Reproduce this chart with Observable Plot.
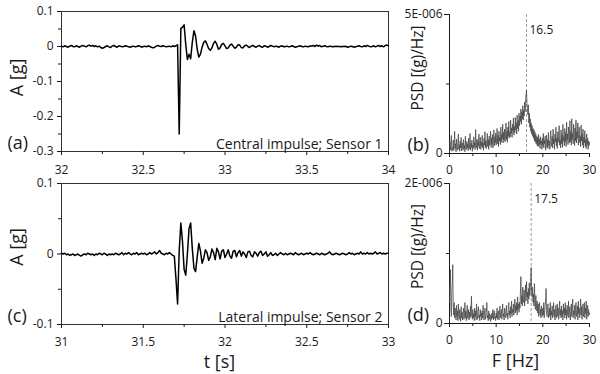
<!DOCTYPE html>
<html><head><meta charset="utf-8">
<script src="https://cdn.jsdelivr.net/npm/d3@7"></script>
<script src="https://cdn.jsdelivr.net/npm/@observablehq/plot@0.6"></script>
<style>
body{margin:0;background:#fff;}
#chart{position:relative;width:600px;height:374px;overflow:hidden;font-family:"Open Sans",sans-serif;}
#chart svg{position:absolute;}
</style></head><body><div id="chart"></div>
<script>
// ---- Data ----
// (a) Central impulse, Sensor 1: acceleration [g], sampled from 32.00 s every 0.01 s
const sigAStart = 32.00, sigAStep = 0.01;
const sigA = [
 0.001,-0.001,0.002,0.000,-0.002,0.001,0.003,0.000,-0.001,0.002,
 0.000,-0.002,0.001,0.003,0.001,-0.001,0.002,0.004,0.001,0.003,
 0.000,0.002,-0.001,0.001,-0.003,-0.005,-0.003,0.000,0.002,-0.001,
 -0.003,0.001,0.003,0.000,-0.002,0.002,0.001,-0.001,0.000,0.002,
 0.001,-0.001,-0.002,0.000,0.001,-0.001,0.000,0.002,0.001,-0.002,
 0.000,0.001,-0.001,0.002,0.000,-0.002,-0.004,-0.002,0.001,0.003,
 0.001,0.000,0.002,0.001,-0.001,0.000,0.001,-0.001,0.002,0.000,
 0.002,0.005,-0.250,0.052,0.055,0.062,0.005,-0.037,-0.022,-0.035,
 0.012,0.045,0.030,-0.008,-0.030,-0.022,-0.002,0.012,0.016,0.006,
 -0.006,-0.011,-0.004,0.009,0.015,0.006,-0.008,-0.004,0.006,0.009,
 0.002,-0.006,-0.004,0.004,0.007,0.001,-0.005,-0.002,0.005,0.004,
 -0.003,-0.004,0.002,0.004,0.000,-0.003,0.001,0.003,0.000,-0.002,
 0.001,0.003,-0.001,-0.002,0.002,0.001,-0.002,0.000,0.003,0.001,
 -0.001,0.001,0.000,-0.002,0.001,0.002,-0.001,0.000,0.001,-0.001,
 0.000,0.002,0.000,-0.002,-0.001,0.001,0.002,0.000,-0.001,0.001,
 0.000,-0.001,0.002,0.001,0.003,0.000,0.004,0.001,0.003,-0.001,
 0.001,0.002,0.000,-0.001,0.001,0.000,-0.001,0.000,0.001,0.000,
 0.000,-0.001,0.000,0.001,0.000,-0.002,-0.001,0.001,0.000,-0.002,
 -0.001,0.001,0.002,0.000,-0.001,0.002,0.000,0.003,0.001,-0.001,
 0.000,0.002,-0.001,0.001,0.003,0.000,0.002,-0.001,0.003,0.004,
 0.002
];
// (c) Lateral impulse, Sensor 2: acceleration [g], sampled from 31.00 s every 0.01 s
const sigCStart = 31.00, sigCStep = 0.01;
const sigC = [
 0.001,0.000,0.001,-0.001,0.000,-0.002,-0.001,0.000,-0.002,-0.001,
 0.000,-0.002,-0.003,-0.001,0.000,-0.001,0.001,0.000,-0.001,0.000,
 -0.002,0.000,-0.001,0.001,0.000,-0.001,0.001,0.000,-0.002,0.000,
 -0.001,0.000,-0.001,0.001,0.000,-0.001,0.000,0.002,-0.001,0.001,
 0.000,0.002,0.000,-0.001,0.001,0.000,0.002,-0.001,0.000,0.001,
 0.000,0.001,-0.001,0.000,0.002,0.000,0.001,0.003,0.000,0.002,
 0.005,0.001,0.000,-0.001,0.001,0.000,0.002,0.000,-0.002,-0.003,
 -0.035,-0.071,0.005,0.044,0.018,-0.022,-0.030,0.000,0.036,0.044,
 0.008,-0.020,-0.025,-0.004,0.015,0.004,-0.013,-0.006,0.006,0.002,
 -0.009,-0.004,0.007,0.002,-0.008,0.008,0.003,-0.007,0.004,0.006,
 -0.005,0.000,0.006,-0.003,-0.006,0.004,0.005,-0.004,0.002,0.005,
 -0.003,0.003,0.000,-0.005,0.003,0.004,-0.002,-0.004,0.003,0.001,
 -0.003,0.002,0.004,-0.002,0.000,0.003,-0.003,-0.001,0.002,-0.002,
 -0.001,0.001,-0.002,0.000,0.002,0.000,-0.001,0.001,-0.001,0.000,
 0.001,0.000,-0.001,0.002,0.000,-0.001,0.000,0.001,-0.001,0.000,
 0.001,0.000,0.002,0.000,-0.001,0.000,0.001,0.000,-0.001,0.001,
 0.000,-0.001,0.000,0.001,0.003,0.000,-0.001,0.000,0.001,0.000,
 -0.001,0.000,0.001,0.000,-0.001,0.000,0.002,0.000,0.001,-0.001,
 0.000,0.001,0.000,0.003,0.000,0.001,0.000,0.002,0.000,0.001,
 0.000,0.001,0.003,0.000,0.001,0.002,0.000,0.001,0.000,0.001,
 0.001
];
// (b) PSD, Sensor 1 [x 1E-006 (g)/Hz], from 0 Hz every 0.1 Hz
const psdBStep = 0.1;
const psdB = [
 0.05,0.42,0.12,0.30,0.65,0.08,0.22,0.15,0.48,0.10,
 0.28,0.80,0.18,0.35,0.06,0.52,0.25,0.12,0.40,0.70,
 0.15,0.32,0.08,0.45,0.20,0.58,0.10,0.26,0.38,0.12,
 0.50,0.18,0.30,0.06,0.62,0.24,0.14,0.44,0.20,0.35,
 0.10,0.55,0.28,0.16,0.72,0.12,0.36,0.22,0.48,0.08,
 0.30,0.18,0.60,0.25,0.40,0.14,0.86,0.30,0.20,0.52,
 0.12,0.45,0.28,0.70,0.18,0.34,0.58,0.15,0.42,0.26,
 0.65,0.20,0.38,0.12,0.55,0.30,0.78,0.22,0.46,0.18,
 0.35,0.72,0.25,0.50,0.15,0.62,0.30,0.44,0.80,0.22,
 0.55,0.32,0.68,0.20,0.48,0.85,0.28,0.60,0.38,0.74,
 0.30,0.56,0.90,0.35,0.66,0.25,0.80,0.45,0.58,0.32,
 0.95,0.40,0.70,0.52,1.05,0.38,0.76,0.48,0.88,0.42,
 0.68,1.10,0.50,0.82,0.40,0.95,0.62,1.15,0.55,0.78,
 0.60,1.20,0.72,0.92,0.58,1.05,0.80,1.28,0.66,0.98,
 0.75,1.30,0.85,1.10,0.70,1.38,0.90,1.18,0.80,1.45,
 1.00,1.35,1.15,1.60,1.05,1.50,1.25,1.72,1.20,1.55,
 1.35,1.85,1.50,1.95,2.10,2.27,1.80,1.60,1.40,1.75,
 1.10,1.45,0.95,1.25,0.80,1.10,0.70,1.00,0.62,0.90,
 0.55,0.85,0.45,0.78,0.40,0.70,0.35,0.62,0.28,0.58,
 0.25,0.68,0.30,0.52,0.18,0.60,0.35,0.45,0.15,0.55,
 0.28,0.72,0.20,0.48,0.35,0.62,0.12,0.40,0.66,0.22,
 0.50,0.18,0.75,0.30,0.45,0.15,0.58,0.82,0.25,0.40,
 0.62,0.20,0.88,0.35,0.52,0.15,0.70,0.42,0.95,0.28,
 0.55,0.18,0.78,0.40,0.62,1.00,0.30,0.50,0.20,0.85,
 0.35,0.68,0.22,1.05,0.45,0.60,0.28,0.90,0.40,0.75,
 0.25,1.12,0.48,0.70,0.32,0.95,0.55,0.38,1.18,0.42,
 0.80,0.30,1.25,0.50,0.72,0.35,1.05,0.60,0.28,0.92,
 0.45,1.20,0.38,0.78,0.55,1.10,0.30,0.68,0.95,0.40,
 0.62,0.25,1.02,0.45,0.70,0.30,0.88,0.20,0.58,0.38,
 0.82,0.25,0.50,0.18,0.70,0.32,0.55,0.15,0.45,0.28,
 0.40
];
// (d) PSD, Sensor 2 [x 1E-006 (g)/Hz], from 0 Hz every 0.1 Hz
const psdDStep = 0.1;
const psdD = [
 0.30,0.55,0.77,0.20,0.10,0.45,0.60,0.84,0.25,0.12,
 0.30,0.08,0.22,0.15,0.05,0.26,0.10,0.18,0.04,0.28,
 0.12,0.06,0.20,0.10,0.03,0.24,0.08,0.16,0.05,0.14,
 0.22,0.06,0.12,0.30,0.08,0.18,0.04,0.15,0.26,0.07,
 0.12,0.20,0.05,0.16,0.08,0.25,0.10,0.39,0.12,0.06,
 0.20,0.08,0.14,0.04,0.22,0.10,0.18,0.05,0.28,0.12,
 0.06,0.16,0.24,0.08,0.12,0.04,0.20,0.10,0.15,0.05,
 0.18,0.08,0.26,0.12,0.05,0.14,0.22,0.06,0.10,0.16,
 0.30,0.08,0.12,0.04,0.18,0.06,0.14,0.10,0.03,0.12,
 0.06,0.15,0.08,0.20,0.05,0.12,0.18,0.07,0.10,0.04,
 0.15,0.08,0.22,0.06,0.12,0.18,0.05,0.14,0.25,0.08,
 0.12,0.20,0.06,0.16,0.28,0.10,0.14,0.05,0.22,0.12,
 0.08,0.18,0.26,0.10,0.15,0.06,0.22,0.30,0.12,0.18,
 0.08,0.24,0.14,0.32,0.10,0.20,0.16,0.28,0.12,0.22,
 0.35,0.15,0.26,0.18,0.30,0.12,0.38,0.20,0.28,0.16,
 0.30,0.22,0.45,0.67,0.28,0.40,0.25,0.52,0.35,0.30,
 0.48,0.25,0.42,0.55,0.32,0.60,0.38,0.45,0.28,0.50,
 0.35,0.58,0.40,0.48,0.62,0.80,0.45,0.38,0.52,0.30,
 0.42,0.25,0.57,0.35,0.20,0.40,0.28,0.18,0.32,0.15,
 0.28,0.10,0.22,0.30,0.12,0.20,0.08,0.25,0.15,0.10,
 0.22,0.12,0.30,0.08,0.18,0.25,0.35,0.50,0.15,0.10,
 0.20,0.28,0.08,0.15,0.22,0.10,0.30,0.05,0.18,0.12,
 0.25,0.08,0.16,0.30,0.10,0.20,0.05,0.14,0.26,0.08,
 0.18,0.28,0.10,0.22,0.06,0.15,0.32,0.12,0.20,0.08,
 0.25,0.10,0.18,0.05,0.28,0.14,0.22,0.08,0.30,0.12,
 0.20,0.06,0.26,0.15,0.10,0.32,0.08,0.18,0.24,0.05,
 0.15,0.28,0.10,0.22,0.35,0.08,0.18,0.12,0.26,0.06,
 0.20,0.30,0.10,0.16,0.25,0.05,0.32,0.14,0.22,0.08,
 0.18,0.35,0.12,0.24,0.06,0.20,0.28,0.10,0.16,0.30,
 0.08,0.22,0.14,0.32,0.06,0.18,0.26,0.10,0.20,0.12,
 0.15
];
const peakB = 16.5, peakD = 17.5;

// ticks and labels
const aXTicks = [32, 32.5, 33, 33.5, 34], aXMinor = [32.25, 32.75, 33.25, 33.75];
const aYTicks = [-0.3, -0.2, -0.1, 0, 0.1], aYMinor = [-0.25, -0.15, -0.05, 0.05];
const cXTicks = [31, 31.5, 32, 32.5, 33], cXMinor = [31.25, 31.75, 32.25, 32.75];
const cYTicks = [-0.1, 0, 0.1], cYMinor = [-0.05, 0.05];
const fXTicks = [0, 10, 20, 30], fXMinor = [5, 15, 25];
const bYTicks = [0, 5], bYLabels = ["0", "5E-006"], bYMinor = [2.5];
const dYTicks = [0, 2], dYLabels = ["0", "2E-006"], dYMinor = [1];

const texts = {
  a: "(a)", b: "(b)", c: "(c)", d: "(d)",
  yA: "A [g]", yPSD: "PSD [(g)/Hz]", xT: "t [s]", xF: "F [Hz]",
  noteA: "Central impulse; Sensor 1", noteC: "Lateral impulse; Sensor 2"
};

const INK = "#1a1a1a";
const FONT = "'Open Sans', sans-serif";
const series = (vals, start, step) => vals.map((v, i) => ({x: start + i * step, v}));

function place(svg, left, top) {
  svg.style.left = left + "px";
  svg.style.top = top + "px";
  document.getElementById("chart").appendChild(svg);
}

function timePanel({data, xDomain, yDomain, xTicks, xMinor, yTicks, yMinor, height, mt, mb, padX, letter, note, yLabelDy, xLabel}) {
  const marks = [
    Plot.frame({stroke: "#333", strokeWidth: 1}),
    Plot.axisX({ticks: xTicks, tickSize: 4, tickPadding: padX, tickFormat: d => String(d), label: null, stroke: INK}),
    Plot.axisX({ticks: xMinor, tickSize: 3, tickFormat: () => "", label: null, stroke: INK}),
    Plot.axisY({ticks: yTicks, tickSize: 4, tickPadding: 4, tickFormat: d => String(d), label: null, stroke: INK}),
    Plot.axisY({ticks: yMinor, tickSize: 3, tickFormat: () => "", label: null, stroke: INK}),
    Plot.line(data, {x: "x", y: "v", stroke: "#000", strokeWidth: 1.5, strokeLinejoin: "round"}),
    Plot.text([texts.yA], {text: d => d, frameAnchor: "left", textAnchor: "middle", dx: -44.5, dy: yLabelDy, rotate: -90, fontSize: 18, fill: INK}),
    Plot.text([letter], {text: d => d, frameAnchor: "bottom-left", dx: -54, dy: -3, textAnchor: "start", lineAnchor: "bottom", fontSize: 18, fill: INK}),
    Plot.text([note], {text: d => d, frameAnchor: "bottom-right", dx: -6, dy: -3, textAnchor: "end", lineAnchor: "bottom", fontSize: 14, fill: INK})
  ];
  if (xLabel) marks.push(Plot.text([xLabel], {text: d => d, frameAnchor: "bottom", dx: -5.5, dy: 38, lineAnchor: "middle", fontSize: 18, fill: INK}));
  return Plot.plot({
    width: 395, height, marginLeft: 61, marginRight: 7, marginTop: mt, marginBottom: mb,
    x: {domain: xDomain}, y: {domain: yDomain},
    style: {fontFamily: FONT, fontSize: "12px", color: INK, background: "transparent", overflow: "visible"},
    marks
  });
}

function psdPanel({data, yDomain, yTicks, yLabels, yMinor, peak, height, mt, mb, letter, yLabelDy, xLabel}) {
  const marks = [
    Plot.ruleX([0], {stroke: INK}),
    Plot.ruleY([0], {stroke: INK}),
    Plot.axisX({ticks: fXTicks, tickSize: 4, tickPadding: 8, tickFormat: d => String(d), label: null, stroke: INK}),
    Plot.axisX({ticks: fXMinor, tickSize: 3, tickFormat: () => "", label: null, stroke: INK}),
    Plot.axisY({ticks: yTicks, tickSize: 5, tickPadding: 2, tickFormat: d => yLabels[yTicks.indexOf(d)], label: null, stroke: INK}),
    Plot.axisY({ticks: yMinor, tickSize: 3, tickFormat: () => "", label: null, stroke: INK}),
    Plot.ruleX([peak], {stroke: "#9a9a9a", strokeWidth: 1, strokeDasharray: "3,2"}),
    Plot.line(data, {x: "x", y: "v", stroke: "#444", strokeWidth: 0.75}),
    Plot.text([peak], {x: d => d, text: d => String(d), frameAnchor: "top", dx: 3, dy: 11, textAnchor: "start", fontSize: 12, fill: INK}),
    Plot.text([texts.yPSD], {text: d => d, frameAnchor: "left", textAnchor: "middle", dx: -31, dy: yLabelDy, rotate: -90, fontSize: 15.5, fill: INK}),
    Plot.text([letter], {text: d => d, frameAnchor: "bottom-left", dx: -42, dy: -3, textAnchor: "start", lineAnchor: "bottom", fontSize: 18, fill: INK})
  ];
  if (xLabel) marks.push(Plot.text([xLabel], {text: d => d, frameAnchor: "bottom", dx: -4, dy: 38, lineAnchor: "middle", fontSize: 18, fill: INK}));
  return Plot.plot({
    width: 205, height, marginLeft: 54, marginRight: 11, marginTop: mt, marginBottom: mb,
    x: {domain: [0, 30]}, y: {domain: yDomain},
    style: {fontFamily: FONT, fontSize: "12px", color: INK, background: "transparent", overflow: "visible"},
    marks
  });
}

place(timePanel({
  data: series(sigA, sigAStart, sigAStep), xDomain: [32, 34], yDomain: [-0.3, 0.1],
  xTicks: aXTicks, xMinor: aXMinor, yTicks: aYTicks, yMinor: aYMinor,
  height: 180, mt: 11, mb: 29, padX: 10, letter: texts.a, note: texts.noteA, yLabelDy: -4
}), 0, 0);

place(psdPanel({
  data: series(psdB, 0, psdBStep), yDomain: [0, 5], yTicks: bYTicks, yLabels: bYLabels, yMinor: bYMinor,
  peak: peakB, height: 180, mt: 14, mb: 27, letter: texts.b, yLabelDy: -16
}), 395, 0);

place(timePanel({
  data: series(sigC, sigCStart, sigCStep), xDomain: [31, 33], yDomain: [-0.1, 0.1],
  xTicks: cXTicks, xMinor: cXMinor, yTicks: cYTicks, yMinor: cYMinor,
  height: 194, mt: 3, mb: 50, padX: 9, letter: texts.c, note: texts.noteC, yLabelDy: -7, xLabel: texts.xT
}), 0, 180);

place(psdPanel({
  data: series(psdD, 0, psdDStep), yDomain: [0, 2], yTicks: dYTicks, yLabels: dYLabels, yMinor: dYMinor,
  peak: peakD, height: 194, mt: 3, mb: 51, letter: texts.d, yLabelDy: -7, xLabel: texts.xF
}), 395, 180);
</script></body></html>
